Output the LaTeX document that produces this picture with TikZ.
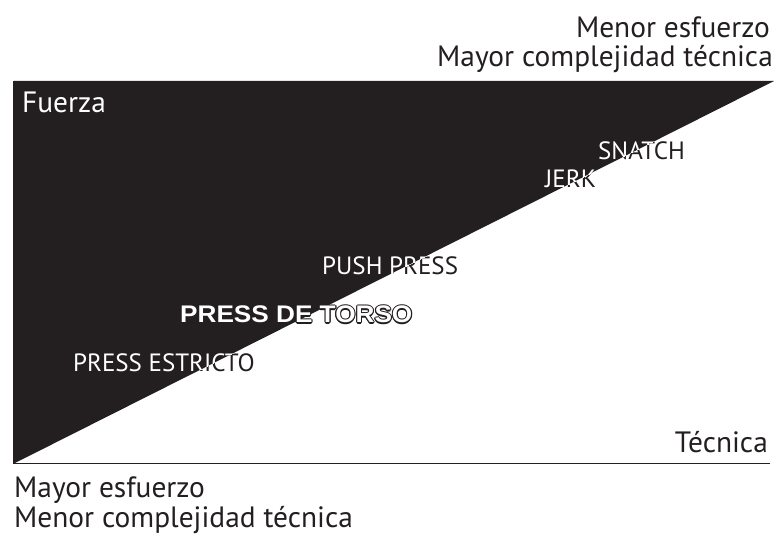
\documentclass[tikz,border=0pt]{standalone}
\usepackage{fontspec}
\setmainfont{PT Sans}
\newfontfamily\boldlab{Liberation Sans}
\definecolor{ink}{HTML}{231F20}
\begin{document}
\begin{tikzpicture}[x=1pt,y=-1pt,
  big/.style={inner sep=0pt,font=\fontsize{29.4}{31}\selectfont,text=ink},
  lab/.style={inner sep=0pt,font=\fontsize{25}{27}\selectfont},
  torso/.style={inner sep=0pt,font=\boldlab\bfseries\fontsize{24}{26}\selectfont}]
\useasboundingbox (0,0) rectangle (774,537);
% black triangle
\fill[ink] (14,81) -- (774,81) -- (14,463.5) -- cycle;
\draw[ink,line width=1.6pt] (14,81) -- (14,463.5) -- (770,463.5);
% axis texts
\node[big,anchor=base east] (t1) at (770,38) {Menor esfuerzo};
\node[big,anchor=base east] (t2) at (773,67) {Mayor complejidad técnica};
\node[big,anchor=base west] (b1) at (14,497) {Mayor esfuerzo};
\node[big,anchor=base west] (b2) at (14,527) {Menor complejidad técnica};
\node[big,anchor=base east] (tec) at (768,452) {Técnica};
\node[big,anchor=base west,text=white] (fu) at (22,113) {Fuerza};
% exercise labels: black everywhere, white inside the triangle
\newcommand\exlabels[2]{%
  \node[lab,text=#1,anchor=base west] (sn#2) at (598,160) {SNATCH};
  \node[lab,text=#1,anchor=base west] (je#2) at (545,188) {JERK};
  \node[lab,text=#1,anchor=base west] (pp#2) at (322,275) {PUSH PRESS};
  \node[lab,text=#1,anchor=base west] (pe#2) at (73,372) {PRESS ESTRICTO};
}
\exlabels{ink}{a}
\begin{scope}
  \clip (14,81) -- (774,81) -- (14,463.5) -- cycle;
  \exlabels{white}{b}
\end{scope}
% outlined bold label
\foreach \dx/\dy [count=\i] in {1.1/0,-1.1/0,0/1.1,0/-1.1,0.8/0.8,-0.8/0.8,0.8/-0.8,-0.8/-0.8}
  \node[torso,text=ink,anchor=base west] (tso\i) at (180+\dx,323+\dy) {\scalebox{1.09}[1]{PRESS DE TORSO}};
\node[torso,text=white,anchor=base west] (ts) at (180,323) {\scalebox{1.09}[1]{PRESS DE TORSO}};
\end{tikzpicture}
\end{document}
